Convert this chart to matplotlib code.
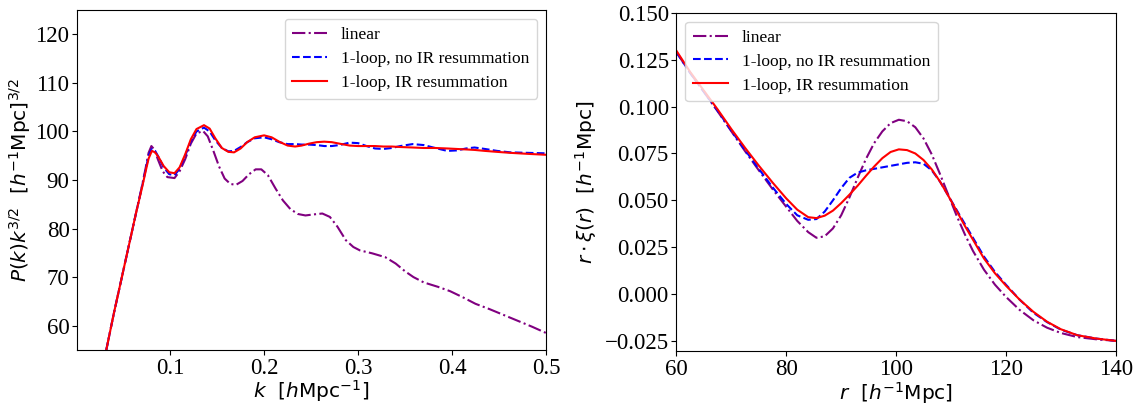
import numpy as np
import matplotlib
matplotlib.use("Agg")
import matplotlib.pyplot as plt

# ---- left panel: P(k) k^{3/2} ----
k_lin = [0.032, 0.040, 0.048, 0.056, 0.064, 0.070, 0.074, 0.077, 0.080, 0.083, 0.087,
         0.092, 0.097, 0.1046, 0.110, 0.116, 0.122, 0.128, 0.135, 0.140, 0.146, 0.152, 0.158,
         0.164, 0.170, 0.177, 0.184, 0.191, 0.197, 0.204, 0.212, 0.220, 0.228, 0.236, 0.244,
         0.252, 0.262, 0.270, 0.278, 0.287, 0.295, 0.302, 0.315, 0.329, 0.340, 0.350, 0.359,
         0.370, 0.385, 0.398, 0.412, 0.425, 0.440, 0.455, 0.470, 0.485, 0.500]
p_lin = [55.0, 62.5, 69.5, 76.5, 83.5, 88.8, 92.6, 95.6, 97.0, 96.3, 94.2,
         91.8, 90.6, 90.4, 91.8, 94.3, 97.5, 99.6, 100.1, 99.0, 96.0, 92.8, 90.3,
         89.2, 89.0, 89.8, 91.2, 92.2, 92.2, 91.0, 88.3, 85.8, 84.0, 83.0, 82.7,
         82.9, 83.1, 82.4, 80.4, 77.6, 76.2, 75.5, 74.9, 74.1, 72.8, 71.2, 70.0,
         68.9, 68.0, 67.1, 65.8, 64.5, 63.4, 62.2, 61.0, 59.8, 58.5]

k_1loop = [0.032, 0.040, 0.048, 0.056, 0.064, 0.070, 0.074, 0.077, 0.0805, 0.084, 0.088,
           0.093, 0.099, 0.1046, 0.110, 0.116, 0.122, 0.128, 0.136, 0.142, 0.148, 0.155, 0.162,
           0.168, 0.175, 0.182, 0.190, 0.200, 0.208, 0.216, 0.225, 0.233, 0.240, 0.248, 0.256,
           0.264, 0.272, 0.280, 0.291, 0.300, 0.309, 0.318, 0.327, 0.336, 0.345, 0.358, 0.370,
           0.382, 0.395, 0.405, 0.415, 0.424, 0.435, 0.448, 0.462, 0.480, 0.500]
p_noir = [55.0, 62.5, 69.5, 76.5, 83.5, 88.6, 92.2, 95.0, 96.4, 96.0, 94.6,
          92.6, 91.2, 91.0, 92.3, 95.0, 98.0, 100.0, 100.8, 100.0, 98.2, 96.6, 95.9,
          96.0, 96.8, 97.8, 98.6, 98.8, 98.4, 97.8, 97.4, 97.4, 97.3, 97.3, 97.2,
          97.0, 97.0, 97.2, 97.7, 97.6, 97.0, 96.5, 96.4, 96.6, 97.0, 97.4, 97.2,
          96.6, 96.0, 96.1, 96.5, 96.7, 96.4, 96.0, 95.7, 95.6, 95.5]
p_ir = [55.0, 62.5, 69.5, 76.5, 83.5, 88.4, 91.9, 94.4, 96.0, 95.7, 94.6,
        92.9, 91.6, 91.4, 92.6, 95.3, 98.4, 100.5, 101.3, 100.6, 98.6, 96.6, 95.8,
        95.7, 96.5, 97.8, 98.8, 99.2, 98.8, 97.9, 97.1, 96.9, 97.1, 97.5, 97.8,
        97.9, 97.8, 97.5, 97.1, 97.0, 97.0, 97.0, 96.9, 96.9, 96.8, 96.7, 96.6,
        96.6, 96.5, 96.4, 96.3, 96.2, 96.0, 95.8, 95.6, 95.4, 95.2]

# ---- right panel: r * xi(r) ----
r_vals = [60, 62.5, 65, 67.5, 70, 72.5, 75, 77.5, 80, 82, 84, 85.5, 87, 88.5, 90, 91.5,
          93, 94.5, 96, 97.5, 99, 100.5, 102, 103.5, 105, 106.5, 108, 109.5, 111, 112.5,
          114, 116, 118, 120, 122.5, 125, 127.5, 130, 133, 136.5, 140]
xi_lin = [0.129, 0.118, 0.1078, 0.0975, 0.0868, 0.0762, 0.0660, 0.0560, 0.0465, 0.0390, 0.0330,
          0.0300, 0.0308, 0.0350, 0.0420, 0.0515, 0.0620, 0.0720, 0.0805, 0.0868, 0.0912, 0.0930,
          0.0922, 0.0890, 0.0830, 0.0745, 0.0640, 0.0530, 0.0420, 0.0320, 0.0230, 0.0130, 0.0050,
          -0.0015, -0.0085, -0.0140, -0.0180, -0.0208, -0.0230, -0.0242, -0.0250]
xi_noir = [0.129, 0.118, 0.1080, 0.0978, 0.0872, 0.0768, 0.0668, 0.0570, 0.0480, 0.0420, 0.0396,
           0.0400, 0.0440, 0.0500, 0.0565, 0.0620, 0.0648, 0.0660, 0.0668, 0.0676, 0.0684, 0.0692,
           0.0700, 0.0703, 0.0695, 0.0660, 0.0600, 0.0525, 0.0450, 0.0375, 0.0300, 0.0200, 0.0118,
           0.0050, -0.0030, -0.0100, -0.0150, -0.0190, -0.0220, -0.0238, -0.0250]
xi_ir = [0.1298, 0.1185, 0.1085, 0.0985, 0.0880, 0.0780, 0.0685, 0.0595, 0.0510, 0.0450, 0.0410,
         0.0405, 0.0418, 0.0445, 0.0485, 0.0530, 0.0578, 0.0630, 0.0680, 0.0725, 0.0758, 0.0772,
         0.0768, 0.0750, 0.0715, 0.0665, 0.0600, 0.0525, 0.0445, 0.0365, 0.0290, 0.0190, 0.0111,
         0.0045, -0.0030, -0.0095, -0.0148, -0.0188, -0.0220, -0.0238, -0.0250]

labels = ["linear", "1-loop, no IR resummation", "1-loop, IR resummation"]

fig = plt.figure(figsize=(11.35, 4.05), dpi=100)
ax1 = fig.add_axes([0.068, 0.136, 0.413, 0.839])
ax2 = fig.add_axes([0.596, 0.133, 0.387, 0.835])

ax1.plot(k_lin, p_lin, color="purple", ls="-.", lw=1.5, label=labels[0])
ax1.plot(k_1loop, p_noir, color="blue", ls="--", lw=1.5, label=labels[1])
ax1.plot(k_1loop, p_ir, color="red", ls="-", lw=1.5, label=labels[2])
ax1.set_xlim(0.001, 0.5)
ax1.set_ylim(55, 125)
ax1.set_xticks([0.1, 0.2, 0.3, 0.4, 0.5])
ax1.set_yticks([60, 70, 80, 90, 100, 110, 120])
ax1.set_xlabel(r"$k\ \ [h\mathrm{Mpc}^{-1}]$", fontsize=14.5, labelpad=0)
ax1.set_ylabel(r"$P(k)k^{3/2}\ \ [h^{-1}\mathrm{Mpc}]^{3/2}$", fontsize=14.5, labelpad=2)

ax2.plot(r_vals, xi_lin, color="purple", ls="-.", lw=1.5, label=labels[0])
ax2.plot(r_vals, xi_noir, color="blue", ls="--", lw=1.5, label=labels[1])
ax2.plot(r_vals, xi_ir, color="red", ls="-", lw=1.5, label=labels[2])
ax2.set_xlim(60, 140)
ax2.set_ylim(-0.0305, 0.150)
ax2.set_xticks([60, 80, 100, 120, 140])
ax2.set_yticks([-0.025, 0.0, 0.025, 0.05, 0.075, 0.1, 0.125, 0.15])
ax2.set_yticklabels(["\u22120.025", "0.000", "0.025", "0.050", "0.075", "0.100", "0.125", "0.150"])
ax2.set_xlabel(r"$r\ \ [h^{-1}\mathrm{Mpc}]$", fontsize=14.5, labelpad=0)
ax2.set_ylabel(r"$r\cdot\xi(r)\ \ [h^{-1}\mathrm{Mpc}]$", fontsize=14.5, labelpad=4)

for ax in (ax1, ax2):
    ax.tick_params(pad=2)
    for t in ax.get_xticklabels() + ax.get_yticklabels():
        t.set_fontfamily("Liberation Serif")
        t.set_fontsize(16.5)

leg_kw = dict(prop={"family": "Liberation Serif", "size": 12.5}, handlelength=2.0,
              handletextpad=0.8, labelspacing=0.45, borderpad=0.45, borderaxespad=0.5)
ax1.legend(loc="upper right", **leg_kw)
ax2.legend(loc="upper left", **leg_kw)

fig.savefig("out.png", dpi=100)
